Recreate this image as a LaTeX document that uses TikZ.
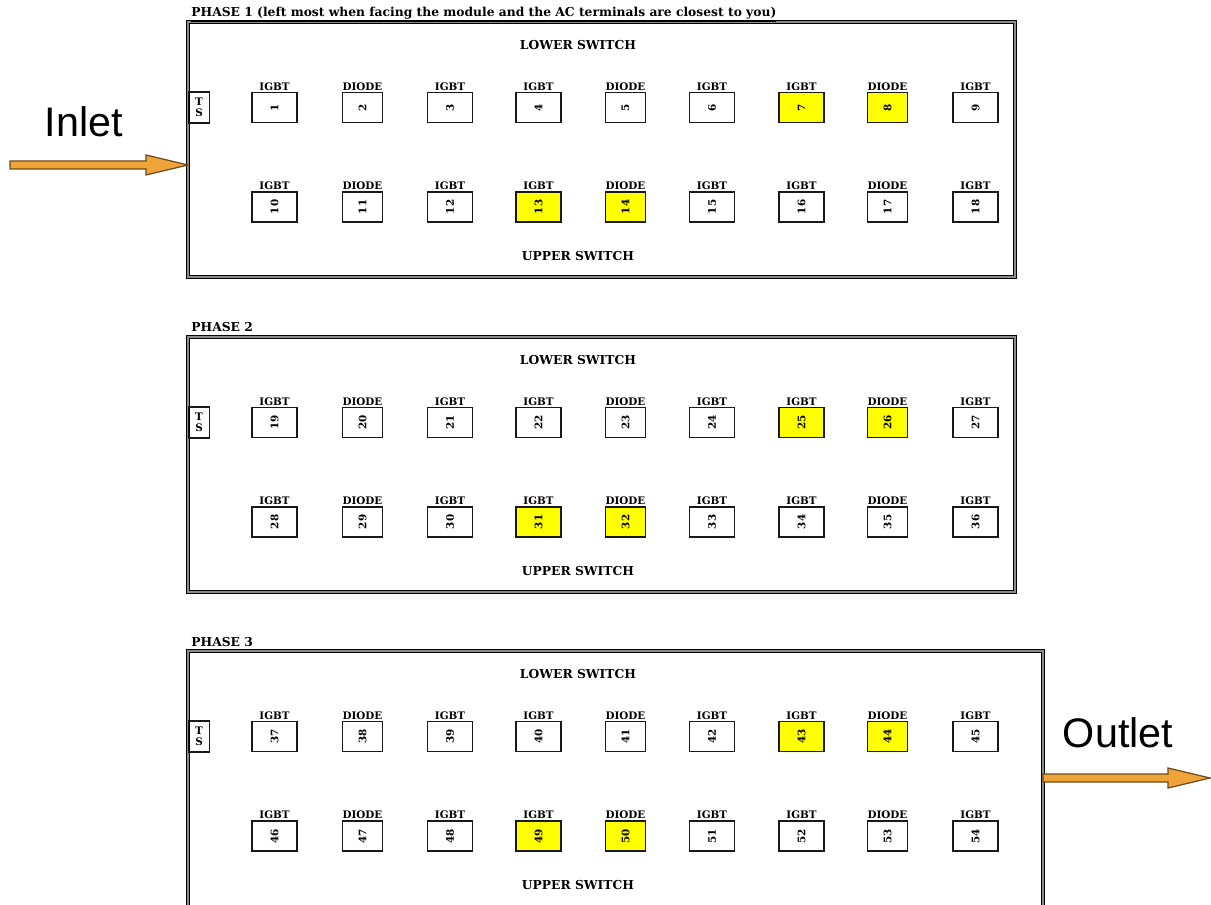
\documentclass[tikz,border=0pt]{standalone}
\usepackage{fontspec}
\setmainfont{DejaVu Serif}
\newfontfamily\arialfont{Liberation Sans}
\definecolor{arrowfill}{HTML}{EFA43A}
\definecolor{arrowline}{HTML}{6E4A1C}
\definecolor{hl}{HTML}{FFFF00}
\begin{document}
\begin{tikzpicture}[x=0.02cm,y=-0.02cm,
  phasebox/.style={draw=black, line width=0.6pt, double=black!45, double distance=0.7pt},
  tiny/.style={font=\fontsize{5.9}{6.3}\selectfont\bfseries, inner sep=0.6pt},
  head/.style={font=\fontsize{7}{7.5}\selectfont\bfseries, inner sep=0.6pt},
  comp/.style={draw=black!90, line width=0.8pt, minimum height=0.6cm, inner sep=0pt},
  igbtbox/.style={comp, minimum width=0.9cm},
  diodebox/.style={comp, minimum width=0.8cm},
  numtxt/.style={tiny, rotate=90},
  bigtxt/.style={font=\arialfont\fontsize{23.5}{26}\selectfont, inner sep=0pt},
  flowarrow/.style={fill=arrowfill, draw=arrowline, line width=0.7pt, line join=miter}
]
\useasboundingbox (0,0) rectangle (1211,905);
\clip (0,0) rectangle (1211,905);
\fill[white] (0,0) rectangle (1211,905);

% phase boxes
\draw[phasebox] (188,22) rectangle (1015,277);
\draw[phasebox] (188,337) rectangle (1015,592);
\draw[phasebox] (188,651) rectangle (1043,930);

\node[head, anchor=base west] (t1) at (190,16.5) {\underline{PHASE 1 (left most when facing the module and the AC terminals are closest to you)}};
\node[head, anchor=base west] (t2) at (190,332) {PHASE 2};
\node[head, anchor=base west] (t3) at (190,646) {PHASE 3};

\foreach \p/\off in {1/0,2/315,3/629} {
  \begin{scope}[shift={(0,\off)}]
    \node[head] (lo\p) at (578,45) {LOWER SWITCH};
    \node[head] (up\p) at (578,256) {UPPER SWITCH};
    \node[draw=black!90, line width=0.8pt, minimum width=0.42cm, minimum height=0.62cm, inner sep=0pt,
          font=\fontsize{5.9}{6.4}\selectfont\bfseries, align=center] (ts\p) at (199,107.5) {T\\S};
    \foreach \i/\cx/\t/\s in {1/274.5/IGBT/igbtbox,2/362.5/DIODE/diodebox,3/450/IGBT/igbtbox,
        4/538.5/IGBT/igbtbox,5/625.5/DIODE/diodebox,6/712/IGBT/igbtbox,7/801.5/IGBT/igbtbox,
        8/887.5/DIODE/diodebox,9/975.5/IGBT/igbtbox} {
      \pgfmathtruncatemacro{\na}{18*(\p-1)+\i}
      \pgfmathtruncatemacro{\nb}{18*(\p-1)+9+\i}
      \pgfmathsetmacro{\fa}{(\i==7 || \i==8) ? "hl" : "white"}
      \pgfmathsetmacro{\fb}{(\i==4 || \i==5) ? "hl" : "white"}
      \node[\s, fill=\fa] (a\na) at (\cx,107.5) {};
      \node[numtxt] at (a\na.center) {\na};
      \node[tiny, anchor=south] at (a\na.north) {\t};
      \node[\s, fill=\fb] (a\nb) at (\cx,207) {};
      \node[numtxt] at (a\nb.center) {\nb};
      \node[tiny, anchor=south] at (a\nb.north) {\t};
    }
  \end{scope}
}

% inlet
\node[bigtxt] (inlet) at (84,122) {Inlet};
\coordinate (inTip) at (188,165);
\draw[flowarrow] (10,161) -- (146,161) -- (146,155) -- (inTip) -- (146,175) -- (146,169) -- (10,169) -- cycle;

% outlet
\node[bigtxt] (outlet) at (1118,733) {Outlet};
\coordinate (outTip) at (1210,778);
\draw[flowarrow] (1043,774) -- (1168,774) -- (1168,768) -- (outTip) -- (1168,788) -- (1168,782) -- (1043,782) -- cycle;
\end{tikzpicture}
\end{document}
